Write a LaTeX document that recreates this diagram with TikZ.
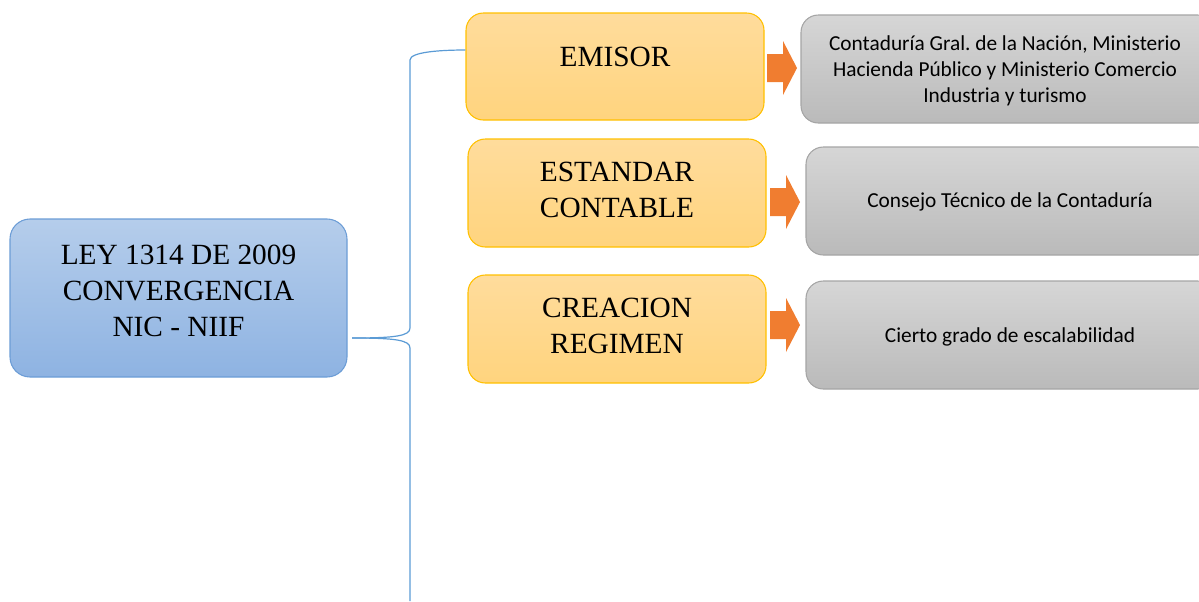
\documentclass[tikz,border=0pt]{standalone}
\usepackage{fontspec}
\usetikzlibrary{calc}
\setmainfont{Liberation Serif}
\newfontfamily\calib{Carlito}
\frenchspacing
\begin{document}
\begin{tikzpicture}[x=0.75pt,y=-0.75pt,
  mainbox/.style={rounded corners=15pt, draw=blueborder, line width=0.8pt, top color=bluetop, bottom color=bluebot, inner sep=0pt},
  catbox/.style={rounded corners=13pt, draw=orangeborder, line width=0.8pt, top color=orangetop, bottom color=orangebot, inner sep=0pt},
  infobox/.style={rounded corners=13pt, draw=grayborder, line width=0.8pt, top color=graytop, bottom color=graybot, inner sep=0pt},
  bigtxt/.style={align=center, font=\fontsize{22}{27}\selectfont},
  smalltxt/.style={align=center, font=\calib\fontsize{16}{19.3}\selectfont},
  link/.style={draw=linkblue, line width=0.9pt},
  fatarrow/.style={fill=arroworange, draw=none}]
\definecolor{blueborder}{HTML}{6C9DD6}
\definecolor{bluetop}{HTML}{B5CDEB}
\definecolor{bluebot}{HTML}{8EB3E2}
\definecolor{orangeborder}{HTML}{FFC000}
\definecolor{orangetop}{HTML}{FFDC9C}
\definecolor{orangebot}{HTML}{FFD47E}
\definecolor{grayborder}{HTML}{A5A5A5}
\definecolor{graytop}{HTML}{D6D6D6}
\definecolor{graybot}{HTML}{BABABA}
\definecolor{linkblue}{HTML}{5B9BD5}
\definecolor{arroworange}{HTML}{F07D30}
\useasboundingbox (0,0) rectangle (1199,601);

\node[mainbox, minimum width=337*0.75pt, minimum height=158*0.75pt] (ley) at (178.5,298) {};
\node[bigtxt] (leytxt) at (178.5,291) {LEY 1314 DE 2009\\CONVERGENCIA\\NIC - NIIF};

\node[catbox, minimum width=298*0.75pt, minimum height=107*0.75pt] (emisor) at (615,66.5) {};
\node[bigtxt] (emisortxt) at (615,57) {EMISOR};
\node[catbox, minimum width=298*0.75pt, minimum height=108*0.75pt] (estandar) at (617,193) {};
\node[bigtxt] (estandartxt) at (617,190) {ESTANDAR\\CONTABLE};
\node[catbox, minimum width=298*0.75pt, minimum height=108*0.75pt] (creacion) at (617,329) {};
\node[bigtxt] (creaciontxt) at (617,326) {CREACION\\REGIMEN};

\node[infobox, minimum width=414*0.75pt, minimum height=108*0.75pt] (g1) at (1008,69) {};
\node[smalltxt] (g1txt) at (1005,71) {Contaduría Gral. de la Nación, Ministerio\\Hacienda Público y Ministerio Comercio\\Industria y turismo};
\node[infobox, minimum width=409*0.75pt, minimum height=108*0.75pt] (g2) at (1010.5,201) {};
\node[smalltxt] (g2txt) at (1010,202) {Consejo Técnico de la Contaduría};
\node[infobox, minimum width=409*0.75pt, minimum height=108*0.75pt] (g3) at (1010.5,335) {};
\node[smalltxt] (g3txt) at (1010,337) {Cierto grado de escalabilidad};

\coordinate (a1) at (767,68);
\coordinate (a2) at (770,202);
\coordinate (a3) at (770,325);
\foreach \a in {a1,a2,a3}{
  \fill[fatarrow] ($(\a)+(0,-14)$) -- ++(16,0) -- ++(0,-13) -- ($(\a)+(30,0)$) -- ($(\a)+(16,27)$) -- ++(0,-13) -- ($(\a)+(0,14)$) -- cycle;
}

\coordinate (root) at (352,338);
\coordinate (emL) at (emisor.west |- 0,50);
\coordinate (bot) at (410,601);
\draw[link] (root) .. controls (395,338) and (410,336) .. (410,328) -- (410,60) .. controls (410,52) and (440,50) .. (emL);
\draw[link] (root) .. controls (395,338) and (410,340) .. (410,348) -- (bot);
\end{tikzpicture}
\end{document}
